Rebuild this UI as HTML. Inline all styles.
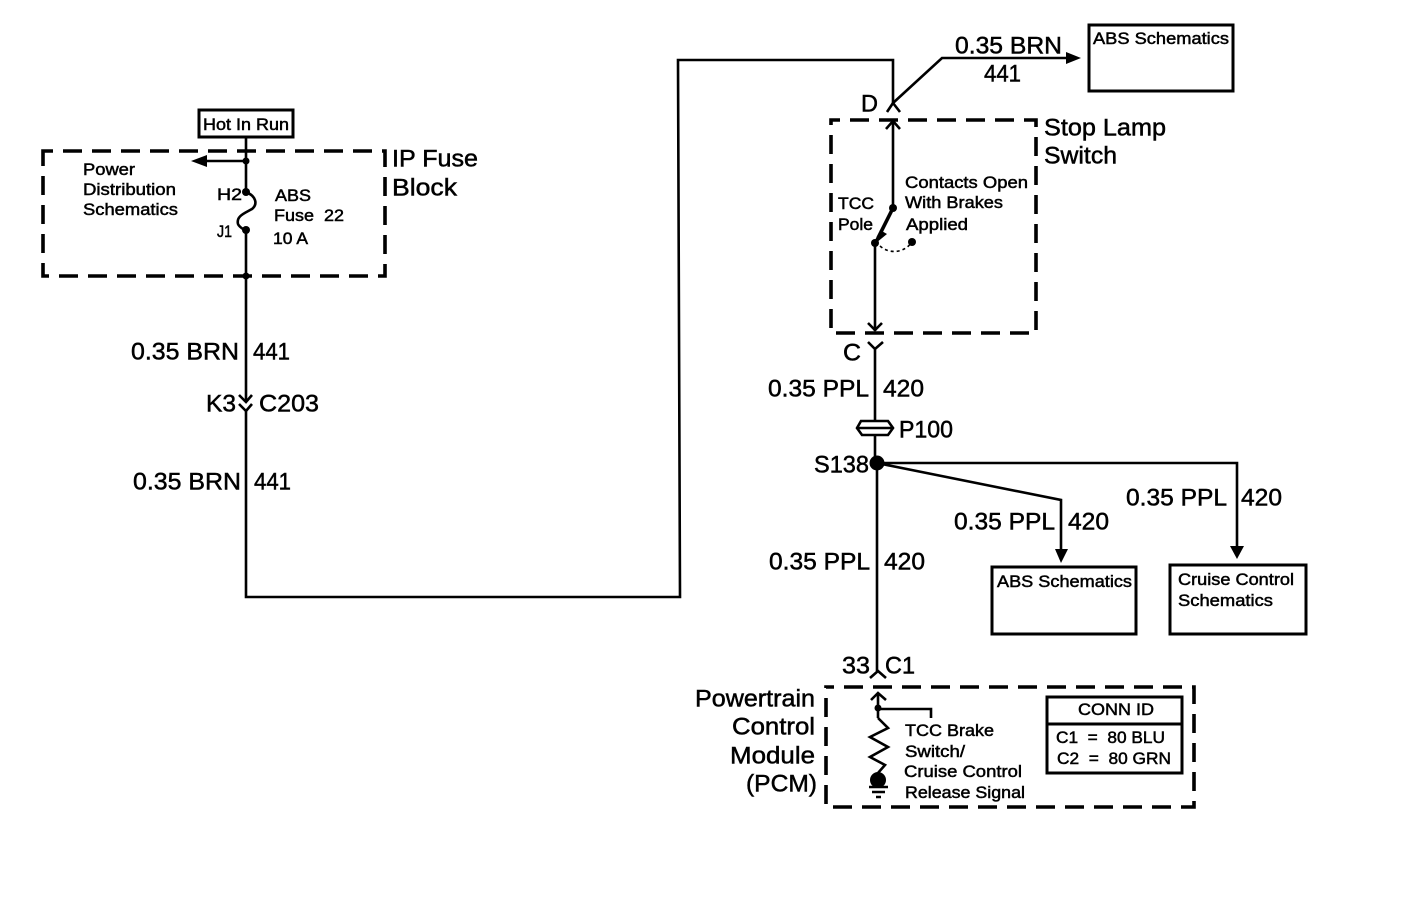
<!DOCTYPE html>
<html>
<head>
<meta charset="utf-8">
<style>
html,body{margin:0;padding:0;background:#fff}
svg{display:block}
text{font-family:"Liberation Sans",sans-serif;fill:#000;stroke:#000;stroke-width:.5}
.s{font-size:17px}
.m{font-size:24px;transform:translateY(-.6px)}
</style>
</head>
<body>
<svg width="1408" height="910" viewBox="0 0 1408 910" xmlns="http://www.w3.org/2000/svg">
<g fill="none" stroke="#000" stroke-width="3.6" stroke-dasharray="19 10">
<rect x="43" y="151" width="342" height="125" stroke-dashoffset="9"/>
<rect x="831" y="120" width="205" height="213" stroke-dashoffset="10"/>
<rect x="826" y="687" width="368" height="120" stroke-dashoffset="11"/>
</g>
<g fill="none" stroke="#000" stroke-width="3">
<rect x="199" y="110" width="94" height="27"/>
<rect x="1089" y="25" width="144" height="66"/>
<rect x="992" y="567" width="144" height="67"/>
<rect x="1170" y="565" width="136" height="69"/>
<rect x="1047" y="697" width="135" height="76"/>
<path d="M1047 724H1182"/>
</g>
<g fill="none" stroke="#000" stroke-width="2.6">
<path d="M246 137V192M246 161H205"/>
<path d="M246 192C256 196 258 204 252 209C245 213 236 216 238 224C239 227 243 229 246 231"/>
<path d="M246 231V402M246 411V597H680L678 60H893V103"/>
<path d="M239 395L246 402L252 395M239 404L246 411L252 404"/>
<path d="M887 112L893 103L942 58H1068M893 103L900 112"/>
<path d="M893 121V208L875 243V331"/>
<path d="M886 129L893 121L900 129M868 323L875 330L882 323"/>
<path d="M868 342L875 349L883 342M875 349V421M875 435V463M877 463V671"/>
<path d="M877 463H1237V546M877 463L1061 500V550"/>
<path d="M870 678L878 671L886 678"/>
<path d="M871 700L878 693L886 700M878 693V718"/>
<path d="M878 709H931V718"/>
<path d="M878 718L888 728L870 737L888 747L870 757L885 765L878 773"/>
<path d="M869 787H888M872 792H885M876 797H881"/>
<path d="M861 421H888L893 428L888 435H862L857 428Z"/>
<path d="M857 428H893" stroke-width="2.4"/>
<path d="M893 208L878 238" stroke-width="3.6"/>
</g>
<path d="M880 246C890 255 905 252 911 243" fill="none" stroke="#000" stroke-width="1.6" stroke-dasharray="3 3"/>
<g fill="#000">
<circle cx="246" cy="161" r="3.5"/>
<circle cx="246" cy="192" r="4"/>
<circle cx="246" cy="230" r="4"/>
<circle cx="246" cy="276" r="3.5"/>
<circle cx="893" cy="208" r="4"/>
<circle cx="875" cy="243" r="4"/>
<circle cx="912" cy="242" r="4"/>
<circle cx="877" cy="463" r="7.5"/>
<circle cx="878" cy="708" r="3.5"/>
<circle cx="878" cy="780" r="8"/>
<path d="M191 161L207 155V167Z"/>
<path d="M1081 58L1066 52V64Z"/>
<path d="M1061 563L1055 549H1068Z"/>
<path d="M1237 559L1230 546H1244Z"/>
<path d="M876 243L880 230L887 234Z"/>
</g>

<text class="s" x="203" y="130" textLength="86" lengthAdjust="spacingAndGlyphs">Hot In Run</text>
<text class="s" x="83" y="175" textLength="52" lengthAdjust="spacingAndGlyphs">Power</text>
<text class="s" x="83" y="195" textLength="93" lengthAdjust="spacingAndGlyphs">Distribution</text>
<text class="s" x="83" y="215" textLength="95" lengthAdjust="spacingAndGlyphs">Schematics</text>
<text class="s" x="217" y="200" textLength="25" lengthAdjust="spacingAndGlyphs">H2</text>
<text class="s" x="217" y="237" textLength="15" lengthAdjust="spacingAndGlyphs">J1</text>
<text class="s" x="275" y="201" textLength="36" lengthAdjust="spacingAndGlyphs">ABS</text>
<text class="s" x="274" y="221" textLength="70" lengthAdjust="spacingAndGlyphs" xml:space="preserve">Fuse  22</text>
<text class="s" x="273" y="244" textLength="35" lengthAdjust="spacingAndGlyphs">10 A</text>
<text class="m" x="392" y="167" textLength="86" lengthAdjust="spacingAndGlyphs">IP Fuse</text>
<text class="m" x="392" y="196" textLength="65" lengthAdjust="spacingAndGlyphs">Block</text>

<text class="m" x="131" y="360" textLength="108" lengthAdjust="spacingAndGlyphs">0.35 BRN</text>
<text class="m" x="253" y="360" textLength="37" lengthAdjust="spacingAndGlyphs">441</text>
<text class="m" x="206" y="412" textLength="30" lengthAdjust="spacingAndGlyphs">K3</text>
<text class="m" x="259" y="412" textLength="60" lengthAdjust="spacingAndGlyphs">C203</text>
<text class="m" x="133" y="490" textLength="108" lengthAdjust="spacingAndGlyphs">0.35 BRN</text>
<text class="m" x="254" y="490" textLength="37" lengthAdjust="spacingAndGlyphs">441</text>

<text class="m" x="955" y="54" textLength="107" lengthAdjust="spacingAndGlyphs">0.35 BRN</text>
<text class="m" x="984" y="82" textLength="37" lengthAdjust="spacingAndGlyphs">441</text>
<text class="s" x="1093" y="44" textLength="136" lengthAdjust="spacingAndGlyphs">ABS Schematics</text>
<text class="m" x="861" y="112" textLength="17" lengthAdjust="spacingAndGlyphs">D</text>
<text class="m" x="1044" y="136" textLength="122" lengthAdjust="spacingAndGlyphs">Stop Lamp</text>
<text class="m" x="1044" y="164" textLength="73" lengthAdjust="spacingAndGlyphs">Switch</text>
<text class="s" x="905" y="188" textLength="123" lengthAdjust="spacingAndGlyphs">Contacts Open</text>
<text class="s" x="905" y="208" textLength="98" lengthAdjust="spacingAndGlyphs">With Brakes</text>
<text class="s" x="906" y="230" textLength="62" lengthAdjust="spacingAndGlyphs">Applied</text>
<text class="s" x="838" y="209" textLength="36" lengthAdjust="spacingAndGlyphs">TCC</text>
<text class="s" x="838" y="230" textLength="35" lengthAdjust="spacingAndGlyphs">Pole</text>

<text class="m" x="843" y="361" textLength="18" lengthAdjust="spacingAndGlyphs">C</text>
<text class="m" x="768" y="397" textLength="101" lengthAdjust="spacingAndGlyphs">0.35 PPL</text>
<text class="m" x="883" y="397" textLength="41" lengthAdjust="spacingAndGlyphs">420</text>
<text class="m" x="899" y="438" textLength="54" lengthAdjust="spacingAndGlyphs">P100</text>
<text class="m" x="814" y="473" textLength="55" lengthAdjust="spacingAndGlyphs">S138</text>
<text class="m" x="1126" y="506" textLength="101" lengthAdjust="spacingAndGlyphs">0.35 PPL</text>
<text class="m" x="1241" y="506" textLength="41" lengthAdjust="spacingAndGlyphs">420</text>
<text class="m" x="954" y="530" textLength="101" lengthAdjust="spacingAndGlyphs">0.35 PPL</text>
<text class="m" x="1068" y="530" textLength="41" lengthAdjust="spacingAndGlyphs">420</text>
<text class="m" x="769" y="570" textLength="101" lengthAdjust="spacingAndGlyphs">0.35 PPL</text>
<text class="m" x="884" y="570" textLength="41" lengthAdjust="spacingAndGlyphs">420</text>
<text class="s" x="997" y="587" textLength="135" lengthAdjust="spacingAndGlyphs">ABS Schematics</text>
<text class="s" x="1178" y="585" textLength="116" lengthAdjust="spacingAndGlyphs">Cruise Control</text>
<text class="s" x="1178" y="606" textLength="95" lengthAdjust="spacingAndGlyphs">Schematics</text>
<text class="m" x="842" y="674" textLength="28" lengthAdjust="spacingAndGlyphs">33</text>
<text class="m" x="885" y="674" textLength="30" lengthAdjust="spacingAndGlyphs">C1</text>

<text class="m" x="695" y="707" textLength="120" lengthAdjust="spacingAndGlyphs">Powertrain</text>
<text class="m" x="732" y="735" textLength="83" lengthAdjust="spacingAndGlyphs">Control</text>
<text class="m" x="730" y="764" textLength="85" lengthAdjust="spacingAndGlyphs">Module</text>
<text class="m" x="746" y="792" textLength="71" lengthAdjust="spacingAndGlyphs">(PCM)</text>
<text class="s" x="905" y="736" textLength="89" lengthAdjust="spacingAndGlyphs">TCC Brake</text>
<text class="s" x="905" y="757" textLength="60" lengthAdjust="spacingAndGlyphs">Switch/</text>
<text class="s" x="904" y="777" textLength="118" lengthAdjust="spacingAndGlyphs">Cruise Control</text>
<text class="s" x="905" y="798" textLength="120" lengthAdjust="spacingAndGlyphs">Release Signal</text>
<text class="s" x="1078" y="715" textLength="76" lengthAdjust="spacingAndGlyphs">CONN ID</text>
<text class="s" x="1056" y="743" textLength="109" lengthAdjust="spacingAndGlyphs" xml:space="preserve">C1  =  80 BLU</text>
<text class="s" x="1057" y="764" textLength="114" lengthAdjust="spacingAndGlyphs" xml:space="preserve">C2  =  80 GRN</text>
</svg>
</body>
</html>
